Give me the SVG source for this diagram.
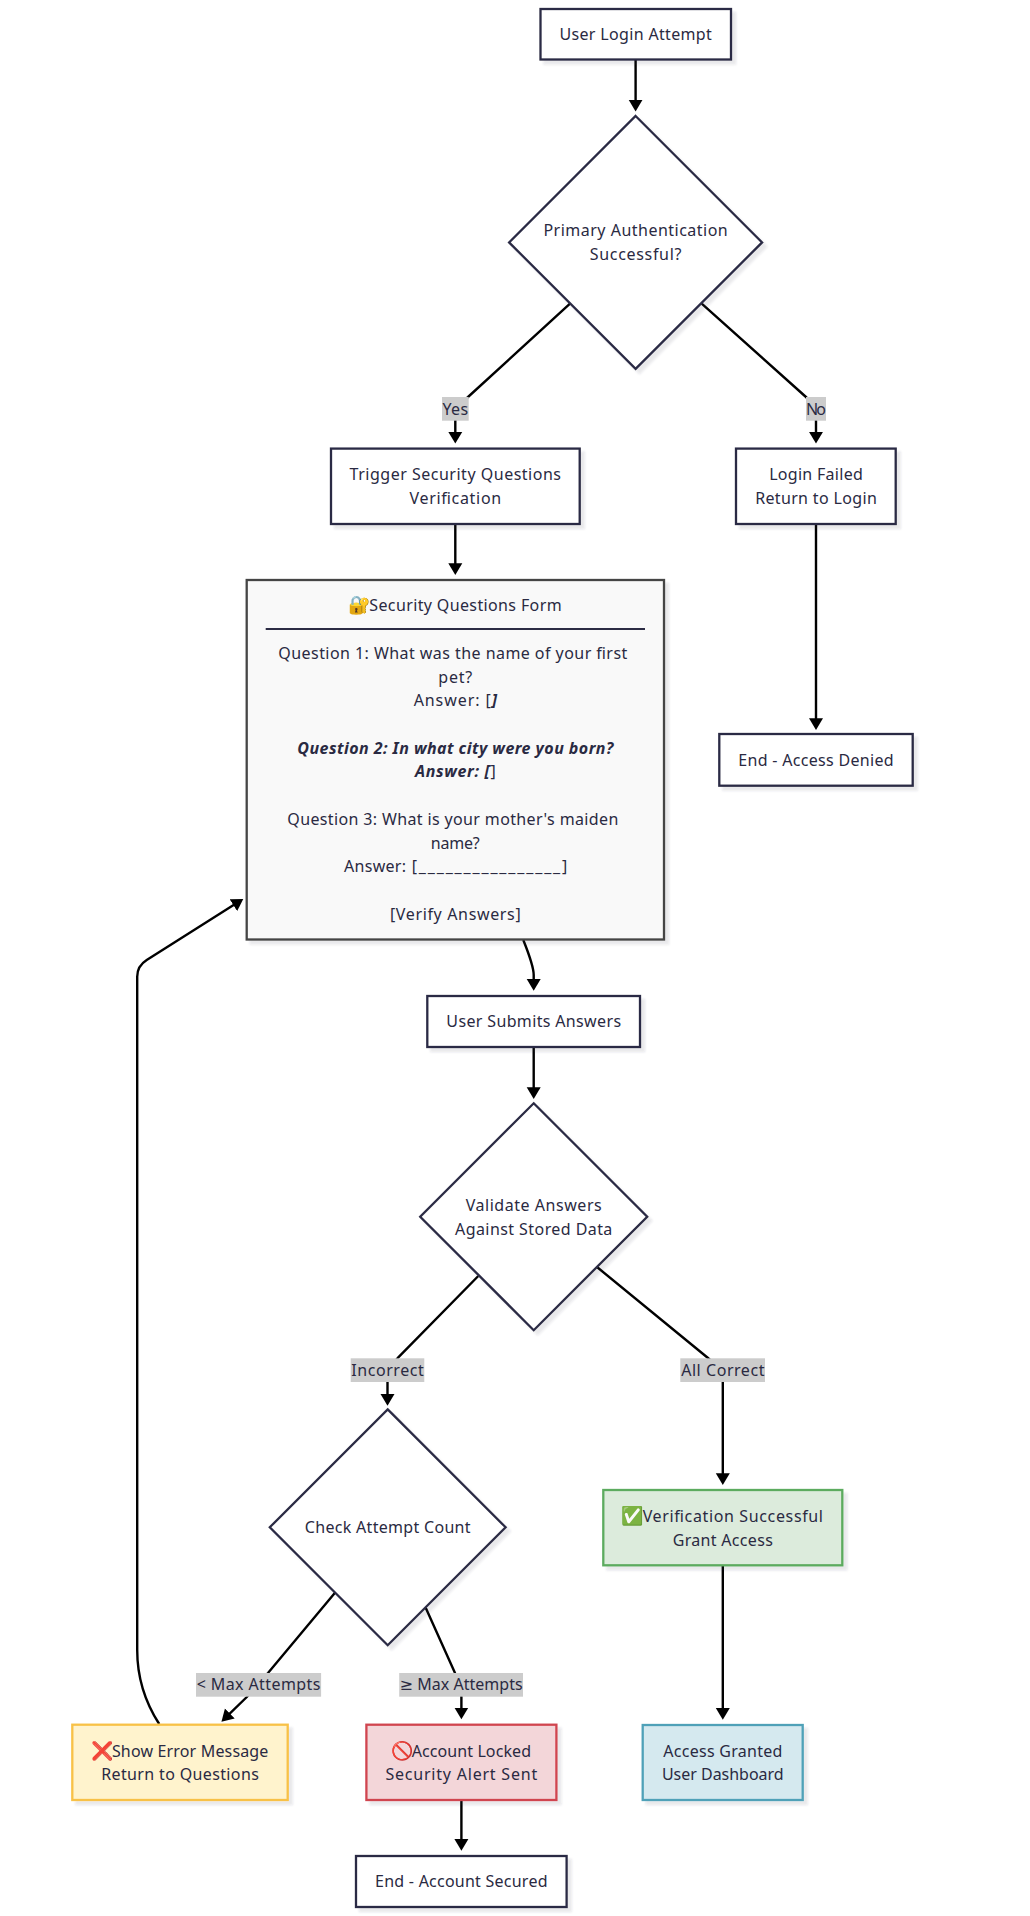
<svg xmlns="http://www.w3.org/2000/svg" width="1030" height="1916" viewBox="0 0 1030 1916">
<style>
text{font-family:"Noto Sans","DejaVu Sans",sans-serif;font-size:16px;fill:#2a2a42;text-anchor:middle}
.s{text-anchor:start}
.be{font-weight:700;font-style:italic}
.em{font-size:18px}
.n{fill:#fff;stroke:#2c2c44;stroke-width:2.3;filter:url(#sh)}
.e{fill:none;stroke:#000;stroke-width:2.4}
.a{marker-end:url(#ah)}
.l{fill:#ccc}
</style>
<defs>
<filter id="sh" x="-10%" y="-10%" width="125%" height="125%"><feDropShadow dx="4" dy="4" stdDeviation="1" flood-color="#2c2c44" flood-opacity="0.11"/></filter>
<marker id="ah" markerUnits="userSpaceOnUse" markerWidth="12" markerHeight="15" viewBox="0 0 12 15" refX="7.7" refY="7.5" orient="auto"><path d="M0,0.5 L11.7,7.5 L0,14.5 z" fill="#000"/></marker>
</defs>
<g id="connectors">
<path class="e a" d="M635.6,60 L635.6,107.4"/>
<path class="e a" d="M570,303.6 L468,397 Q455.3,408 455.3,421 L455.3,439.6"/>
<path class="e a" d="M701.7,303.6 L806,397 Q816,406 816,421 L816,439.6"/>
<path class="e a" d="M455.3,524 L455.3,571"/>
<path class="e a" d="M816,524 L816,726"/>
<path class="e a" d="M523.3,940 Q533.7,966 533.7,975 L533.7,986.7"/>
<path class="e a" d="M533.7,1047 L533.7,1095"/>
<path class="e a" d="M478.3,1276 L398.3,1357.3 Q387.5,1368 387.5,1382 L387.5,1401.7"/>
<path class="e a" d="M597.3,1267.3 L708,1358 Q722.8,1370 722.8,1382 L722.8,1481"/>
<path class="e a" d="M335,1592.7 L268,1673 L246.8,1697 L224.3,1718.9"/>
<path class="e a" d="M425.7,1607.7 L455,1673 Q461.4,1685 461.4,1697 L461.4,1715.3"/>
<path class="e a" d="M159.2,1724 Q137.2,1690 137.2,1650 L137.2,976.7 Q137.2,966 146.7,960 L239.9,901.1"/>
<path class="e a" d="M722.8,1565.3 L722.8,1715.7"/>
<path class="e a" d="M461.4,1800 L461.4,1846.7"/>
</g>
<g id="edge-labels">
<g id="label-yes"><rect class="l" x="442" y="397" width="26.7" height="23.7"/><text x="455.3" y="415.4" textLength="25.7">Yes</text></g>
<g id="label-no"><rect class="l" x="806" y="397" width="20" height="23.7"/><text x="816" y="415.4" textLength="20">No</text></g>
<g id="label-incorrect"><rect class="l" x="350.7" y="1358.3" width="73.6" height="23.7"/><text x="387.5" y="1376" textLength="72.7">Incorrect</text></g>
<g id="label-allcorrect"><rect class="l" x="680.3" y="1358.3" width="84.7" height="23.7"/><text x="722.8" y="1376" textLength="83.3">All Correct</text></g>
<g id="label-lt"><rect class="l" x="196" y="1673" width="125.1" height="23.7"/><text x="258.5" y="1690.3" textLength="123.7">&lt; Max Attempts</text></g>
<g id="label-ge"><rect class="l" x="399.2" y="1673" width="123.8" height="23.7"/><text x="461.1" y="1690.3" textLength="123">≥ Max Attempts</text></g>
</g>
<g id="node-login"><rect class="n" x="540.5" y="9" width="190.5" height="50.5"/><text x="635.6" y="40" textLength="152.4">User Login Attempt</text></g>
<g id="node-primary"><polygon class="n" points="635.6,116 762.1,242.4 635.6,368.9 509.1,242.4"/><text x="635.6" y="236.4" textLength="184.3">Primary Authentication</text><text x="635.6" y="260.4" textLength="91.7">Successful?</text></g>
<g id="node-trigger"><rect class="n" x="331" y="448.6" width="248.7" height="75.4"/><text x="455.3" y="480" textLength="211.4">Trigger Security Questions</text><text x="455.3" y="504" textLength="91.7">Verification</text></g>
<g id="node-failed"><rect class="n" x="736" y="448.6" width="159.7" height="75.4"/><text x="816" y="480" textLength="93.7">Login Failed</text><text x="816" y="504" textLength="121.7">Return to Login</text></g>
<g id="node-denied"><rect class="n" x="719.3" y="734" width="193.4" height="51.7"/><text x="816" y="766" textLength="155.3">End - Access Denied</text></g>
<g id="node-form"><rect class="n" x="246.7" y="580" width="417.3" height="359.5" style="fill:#f9f9f9;stroke:#444"/>
<text class="s" x="348" y="611"><tspan class="em">🔐</tspan><tspan x="369.3" textLength="192.3">Security Questions Form</tspan></text>
<line x1="265.7" y1="629" x2="645" y2="629" stroke="#2c2c44" stroke-width="1.8"/>
<text x="452.8" y="659" textLength="349">Question 1: What was the name of your first</text>
<text x="455.3" y="682.5" textLength="34">pet?</text>
<text x="455.3" y="706" textLength="83.3">Answer: [<tspan class="be">]</tspan></text>
<text x="455.3" y="754" class="be" textLength="316">Question 2: In what city were you born?</text>
<text x="455.3" y="777" textLength="80.7"><tspan class="be">Answer: [</tspan>]</text>
<text x="452.8" y="825" textLength="331">Question 3: What is your mother's maiden</text>
<text x="455.3" y="848.5" textLength="49">name?</text>
<text class="s" x="344" y="872"><tspan x="344" textLength="62">Answer:</tspan><tspan x="411.7" textLength="155.6">[________________]</tspan></text>
<text x="455.3" y="920" textLength="130.7">[Verify Answers]</text>
</g>
<g id="node-submit"><rect class="n" x="427.3" y="996" width="212.7" height="51"/><text x="533.7" y="1027" textLength="174.7">User Submits Answers</text></g>
<g id="node-validate"><polygon class="n" points="533.7,1103.3 647.2,1216.7 533.7,1330.2 420.2,1216.7"/><text x="533.7" y="1211" textLength="136">Validate Answers</text><text x="533.7" y="1234.5" textLength="157.3">Against Stored Data</text></g>
<g id="node-check"><polygon class="n" points="387.7,1409.4 505.6,1527.3 387.7,1645.2 269.8,1527.3"/><text x="387.7" y="1532.7" textLength="165.7">Check Attempt Count</text></g>
<g id="node-verified"><rect class="n" x="603.3" y="1490" width="239" height="75.3" style="fill:#dcebdc;stroke:#5cab5f"/><text class="s" x="621" y="1521.7"><tspan class="em">✅</tspan><tspan x="642.7" textLength="180.3">Verification Successful</tspan></text><text x="722.8" y="1545.7" textLength="100">Grant Access</text></g>
<g id="node-error"><rect class="n" x="72.3" y="1724.7" width="215.4" height="75.3" style="fill:#fff3cd;stroke:#f8c146"/><text class="s" x="90.5" y="1756.7"><tspan class="em">❌</tspan><tspan x="111.9" textLength="156.5">Show Error Message</tspan></text><text x="180" y="1780.3" textLength="157.6">Return to Questions</text></g>
<g id="node-locked"><rect class="n" x="366.4" y="1724.7" width="190" height="75.3" style="fill:#f3d6d9;stroke:#d0454f"/><text class="s" x="390.5" y="1756.7"><tspan class="em">🚫</tspan><tspan x="411.7" textLength="119.3">Account Locked</tspan></text><text x="461.3" y="1780.3" textLength="151.8">Security Alert Sent</text></g>
<g id="node-access"><rect class="n" x="642.7" y="1725" width="160" height="75" style="fill:#d5e9ef;stroke:#4fa1b8"/><text x="722.8" y="1756.7" textLength="119">Access Granted</text><text x="722.8" y="1780.3" textLength="121.7">User Dashboard</text></g>
<g id="node-secured"><rect class="n" x="356" y="1856" width="210.6" height="51"/><text x="461.3" y="1887" textLength="172.4">End - Account Secured</text></g>
</svg>
